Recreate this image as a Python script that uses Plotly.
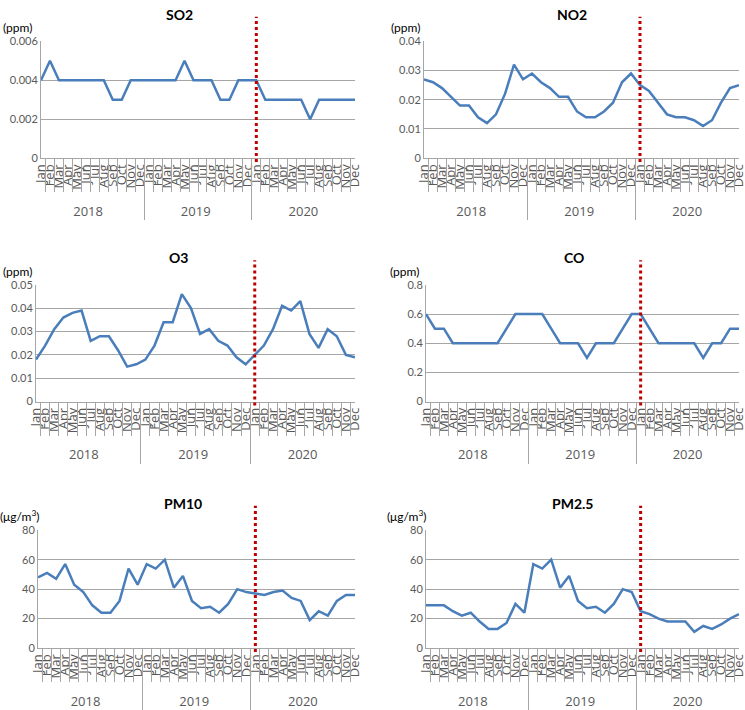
import plotly.graph_objects as go

years = ["2018", "2019", "2020"]
months = ["Jan", "Feb", "Mar", "Apr", "May", "Jun", "Jul", "Aug", "Sep", "Oct", "Nov", "Dec"]
marker_period = ("2020", "Jan")

so2 = [0.004, 0.005, 0.004, 0.004, 0.004, 0.004, 0.004, 0.004, 0.003, 0.003, 0.004, 0.004,
       0.004, 0.004, 0.004, 0.004, 0.005, 0.004, 0.004, 0.004, 0.003, 0.003, 0.004, 0.004,
       0.004, 0.003, 0.003, 0.003, 0.003, 0.003, 0.002, 0.003, 0.003, 0.003, 0.003, 0.003]
no2 = [0.027, 0.026, 0.024, 0.021, 0.018, 0.018, 0.014, 0.012, 0.015, 0.022, 0.032, 0.027,
       0.029, 0.026, 0.024, 0.021, 0.021, 0.016, 0.014, 0.014, 0.016, 0.019, 0.026, 0.029,
       0.025, 0.023, 0.019, 0.015, 0.014, 0.014, 0.013, 0.011, 0.013, 0.019, 0.024, 0.025]
o3 = [0.018, 0.024, 0.031, 0.036, 0.038, 0.039, 0.026, 0.028, 0.028, 0.022, 0.015, 0.016,
      0.018, 0.024, 0.034, 0.034, 0.046, 0.040, 0.029, 0.031, 0.026, 0.024, 0.019, 0.016,
      0.020, 0.024, 0.031, 0.041, 0.039, 0.043, 0.029, 0.023, 0.031, 0.028, 0.020, 0.019]
co = [0.6, 0.5, 0.5, 0.4, 0.4, 0.4, 0.4, 0.4, 0.4, 0.5, 0.6, 0.6,
      0.6, 0.6, 0.5, 0.4, 0.4, 0.4, 0.3, 0.4, 0.4, 0.4, 0.5, 0.6,
      0.6, 0.5, 0.4, 0.4, 0.4, 0.4, 0.4, 0.3, 0.4, 0.4, 0.5, 0.5]
pm10 = [48, 51, 47, 57, 43, 38, 29, 24, 24, 32, 54, 43,
        57, 54, 60, 41, 49, 32, 27, 28, 24, 30, 40, 38,
        37, 36, 38, 39, 34, 32, 19, 25, 22, 32, 36, 36]
pm25 = [29, 29, 29, 25, 22, 24, 18, 13, 13, 17, 30, 24,
        57, 54, 60, 41, 49, 32, 27, 28, 24, 30, 40, 38,
        25, 23, 20, 18, 18, 18, 11, 15, 13, 16, 20, 23]

titles = ["SO2", "NO2", "O3", "CO", "PM10", "PM2.5"]
units = ["(ppm)", "(ppm)", "(ppm)", "(ppm)", "(μg/m<sup>3</sup>)", "(μg/m<sup>3</sup>)"]
series = [so2, no2, o3, co, pm10, pm25]
y_max = [0.006, 0.04, 0.05, 0.8, 80, 80]
y_step = [0.002, 0.01, 0.01, 0.2, 20, 20]

W, H = 745, 710
# plot boxes in pixels: (left, right, top, bottom)
boxes = [(41, 355, 35, 154), (424, 739, 35, 154),
         (36, 355, 283, 402), (426, 739, 283, 402),
         (38, 355, 533, 653), (426, 739, 533, 653)]
title_pos = [(179, 8), (572, 8), (178, 255), (574, 255), (183, 506), (572, 506)]
unit_pos = [(17, 21), (405, 21), (17, 269), (404, 269), (20, 519), (407, 519)]

x_year = [y for y in years for m in months]
x_month = [m for y in years for m in months]
marker_idx = [i for i, (y, m) in enumerate(zip(x_year, x_month)) if (y, m) == marker_period][0]

FONT = "Lato, 'Open Sans', sans-serif"
XFONT = "'Open Sans', Lato, sans-serif"
GRID = "#a6a6a6"
TICKC = "#595959"

fig = go.Figure()
layout = dict(width=W, height=H, margin=dict(l=0, r=0, t=0, b=0),
              paper_bgcolor="white", plot_bgcolor="white", showlegend=False,
              font=dict(family=FONT, color=TICKC))
annotations = []
shapes = []
for k in range(6):
    n = "" if k == 0 else str(k + 1)
    m = str(k + 7)  # overlay axis carrying the month separator ticks
    l, r, t, b = boxes[k]
    fig.add_trace(go.Scatter(x=[x_year, x_month], y=series[k], mode="lines",
                             line=dict(width=0), opacity=0, hoverinfo="skip",
                             xaxis="x" + m, yaxis="y" + n))
    fig.add_trace(go.Scatter(x=[x_year, x_month], y=series[k], mode="lines",
                             line=dict(color="#4a7ebb", width=2.5),
                             xaxis="x" + n, yaxis="y" + n))
    layout["xaxis" + n] = dict(
        type="multicategory", domain=[l / W, r / W], anchor="y" + n,
        showline=True, linecolor=GRID, linewidth=1,
        tickmode="linear", tick0=0, dtick=1,
        tickangle=-90, tickfont=dict(size=13, color=TICKC, family=XFONT),
        ticks="",
        showdividers=True, dividercolor=GRID, dividerwidth=1,
        showgrid=False, fixedrange=True)
    layout["xaxis" + m] = dict(
        type="multicategory", overlaying="x" + n, anchor="y" + n,
        showline=False, showticklabels=False,
        tickmode="linear", tick0=0, dtick=1,
        ticks="outside", ticklen=33, tickcolor=GRID, tickwidth=1,
        tickson="boundaries", showdividers=False,
        showgrid=False, fixedrange=True)
    layout["yaxis" + n] = dict(
        domain=[1 - b / H, 1 - t / H], anchor="x" + n,
        range=[0, y_max[k]], dtick=y_step[k], tick0=0,
        showgrid=True, gridcolor=GRID, gridwidth=1,
        showline=True, linecolor=GRID, linewidth=1, ticks="",
        zeroline=False, tickfont=dict(size=11, color=TICKC, family=FONT),
        fixedrange=True)
    tx, ty = title_pos[k]
    annotations.append(dict(text="<b>" + titles[k] + "</b>", x=tx / W, y=1 - ty / H,
                            xref="paper", yref="paper", showarrow=False,
                            xanchor="center", yanchor="middle",
                            font=dict(size=14, color="black", family=FONT)))
    ux, uy = unit_pos[k]
    annotations.append(dict(text=units[k], x=ux / W, y=1 - uy / H,
                            xref="paper", yref="paper", showarrow=False,
                            xanchor="center", yanchor="middle",
                            font=dict(size=12, color="black", family=FONT)))
    shapes.append(dict(type="line", xref="x" + n, yref="paper",
                       x0=marker_idx, x1=marker_idx,
                       y0=1 - (b + 4) / H, y1=1 - (t - 25) / H,
                       line=dict(color="#c00000", width=3, dash="dot")))

layout["annotations"] = annotations
layout["shapes"] = shapes
fig.update_layout(**layout)
fig.write_html("out.html")
